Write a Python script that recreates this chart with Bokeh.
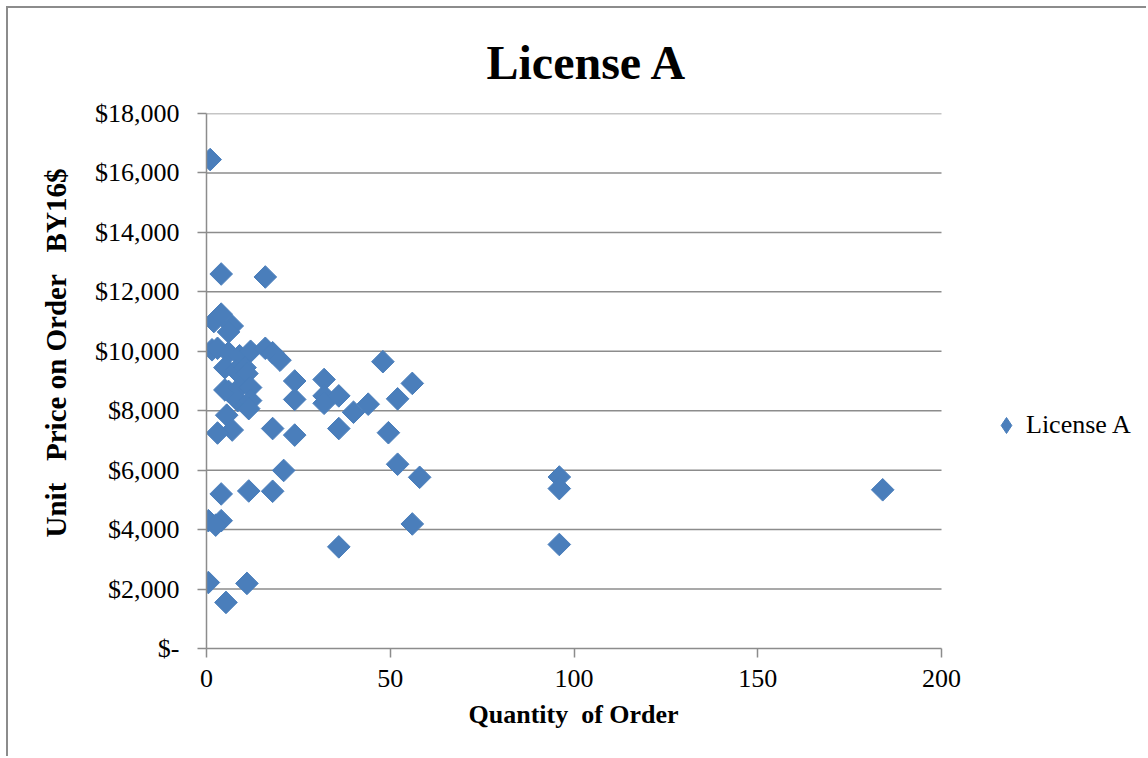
from bokeh.plotting import figure
from bokeh.models import (ColumnDataSource, Range1d, FixedTicker, CustomJSTickFormatter,
                          Legend, LegendItem, Title)
from bokeh.embed import file_html
from bokeh.resources import INLINE
import math

# Order quantity and unit price (base-year 2016 dollars) for each order
quantity = [1, 4, 16, 2, 4, 7, 6, 1.5, 3, 6, 9, 12, 16, 18, 20, 5, 8, 10.5, 11,
            5, 6, 9, 12, 8.5, 12, 11.5, 5.5, 7, 3, 24, 24, 32, 32, 32, 36, 40,
            44, 48, 52, 56, 24, 18, 36, 49.5, 21, 52, 58, 96, 96, 184, 4, 11.5,
            18, 0.5, 4, 2.5, 56, 36, 96, 0.5, 11, 5.3]
unit_price = [16450, 12600, 12500, 11000, 11250, 10850, 10650, 10050, 10100,
              9950, 9850, 10000, 10100, 9950, 9700, 9450, 9350, 9450, 9250,
              8700, 8650, 8780, 8780, 8340, 8340, 8070, 7850, 7350, 7250, 9000,
              8380, 9050, 8500, 8250, 8500, 7950, 8220, 9650, 8400, 8920, 7180,
              7400, 7400, 7260, 5990, 6200, 5760, 5770, 5380, 5340, 5200, 5300,
              5290, 4300, 4300, 4150, 4190, 3420, 3500, 2220, 2190, 1550]

x_ticks = [0, 50, 100, 150, 200]
y_ticks = [0, 2000, 4000, 6000, 8000, 10000, 12000, 14000, 16000, 18000]
series_name = "License A"
x_label = "Quantity\u00a0 of Order"
y_label = "Unit\u00a0\u00a0 Price on Order\u00a0\u00a0 BY16$"

SERIF = "Liberation Serif"
GRID = "#8c8c8c"
BLUE = "#4A7EBB"

# The plotting frame runs on to the right edge so the legend can sit beside
# the data area; the axis and the grid stop at the last x tick.
X_MIN, X_MAX = x_ticks[0], x_ticks[-1]
AXIS_PX, LEGEND_PX = 735, 207
x_end = X_MIN + (X_MAX - X_MIN) * (AXIS_PX + LEGEND_PX) / AXIS_PX

source = ColumnDataSource(data=dict(q=quantity, price=unit_price))

p = figure(width=1140, height=750, output_backend="svg", toolbar_location=None,
           x_range=Range1d(X_MIN, x_end), y_range=Range1d(y_ticks[0], y_ticks[-1]),
           min_border_left=198, min_border_right=0, min_border_top=105,
           min_border_bottom=110)
p.styles = {"margin-left": "6px", "margin-top": "6px",
            "border-left": f"2px solid {GRID}", "border-top": f"2px solid {GRID}"}
p.outline_line_color = None
p.background_fill_color = "white"
p.border_fill_color = "white"

p.title = Title(text=series_name, align="left", offset=280, text_font=SERIF,
                text_font_size="48px", text_font_style="bold",
                vertical_align="top", text_color="black", standoff=46)

# horizontal gridlines, limited to the axis extent
p.segment(x0=X_MIN, x1=X_MAX, y0=y_ticks[1:], y1=y_ticks[1:],
          line_color=GRID, line_width=1.5)

r = p.scatter("q", "price", source=source, marker="square", size=16,
              angle=math.pi / 4, fill_color=BLUE, line_color=BLUE)

# legend swatch: a diamond marker with no visible point of its own
swatch = p.scatter(x=[math.nan], y=[math.nan], marker="diamond",
                   fill_color=BLUE, line_color=BLUE)

# axes
p.xaxis.ticker = FixedTicker(ticks=x_ticks)
p.xaxis.bounds = (X_MIN, X_MAX)
p.yaxis.ticker = FixedTicker(ticks=y_ticks)
p.yaxis.formatter = CustomJSTickFormatter(
    code='return tick == 0 ? "$-" : "$" + tick.toLocaleString("en-US");')
for ax in (p.xaxis[0], p.yaxis[0]):
    ax.axis_line_color = GRID
    ax.axis_line_width = 1.5
    ax.major_tick_line_color = GRID
    ax.major_tick_line_width = 1.5
    ax.major_tick_out = 9
    ax.major_tick_in = 0
    ax.minor_tick_line_color = None
    ax.major_label_text_font = SERIF
    ax.major_label_text_font_size = "26px"
    ax.major_label_text_color = "black"

p.xaxis.major_label_standoff = 12
p.yaxis.major_label_standoff = 18

# axis captions as side titles so they can be placed along the axis span
p.add_layout(Title(text=x_label, align="left", offset=262, text_font=SERIF,
                   text_font_size="26px", text_font_style="bold",
                   text_color="black", standoff=16), "below")
p.add_layout(Title(text=y_label, align="left", offset=111, text_font=SERIF,
                   text_font_size="29px", text_font_style="bold",
                   text_color="black", standoff=40), "left")

p.xgrid.grid_line_color = None
p.ygrid.grid_line_color = None

legend = Legend(items=[LegendItem(label=series_name, renderers=[swatch])],
                location=(780, 203), border_line_color=None,
                background_fill_alpha=0, padding=0, margin=0,
                glyph_width=40, glyph_height=40, label_standoff=0,
                label_text_font=SERIF, label_text_font_size="26px",
                label_text_color="black")
p.add_layout(legend, "center")

open("out.html", "w").write(file_html(p, INLINE))
